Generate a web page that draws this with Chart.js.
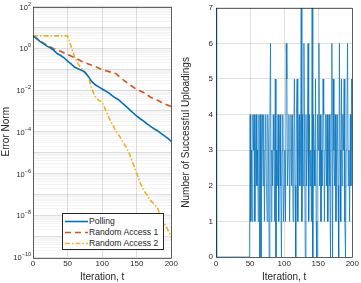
<!DOCTYPE html>
<html><head><meta charset="utf-8">
<script src="https://cdn.jsdelivr.net/npm/chart.js@4/dist/chart.umd.min.js"></script>
<style>
html,body{margin:0;padding:0;background:#fff;}
#wrap{position:relative;width:361px;height:283px;overflow:hidden;font-family:"Liberation Sans",Arial,sans-serif;}
#c1{position:absolute;left:0;top:0;}
#c2{position:absolute;left:180px;top:0;}
#legend{position:absolute;left:62px;top:213px;width:102px;height:37px;border:1px solid #262626;background:#fff;font-size:8.6px;color:#262626;box-sizing:border-box;}
#legend .it{position:absolute;left:1px;height:11px;line-height:11px;white-space:nowrap;}
#legend svg{position:absolute;left:1px;top:0;}
#legend span{position:absolute;left:25px;top:0;}
</style></head>
<body><div id="wrap">
<canvas id="c1" width="180" height="283"></canvas>
<canvas id="c2" width="181" height="283"></canvas>
<div id="legend">
 <div class="it" style="top:2px"><svg width="23" height="11"><line x1="0" y1="5.5" x2="23" y2="5.5" stroke="#0072BD" stroke-width="1.6"/></svg><span>Polling</span></div>
 <div class="it" style="top:13px"><svg width="23" height="11"><line x1="0" y1="5.5" x2="23" y2="5.5" stroke="#D95319" stroke-width="1.6" stroke-dasharray="6,4"/></svg><span>Random Access 1</span></div>
 <div class="it" style="top:24px"><svg width="23" height="11"><line x1="0" y1="5.5" x2="23" y2="5.5" stroke="#EDB120" stroke-width="1.6" stroke-dasharray="5,2,1.5,2"/></svg><span>Random Access 2</span></div>
</div>
</div>
<script>
// ---- Left chart data (error norm vs iteration) ----
const pollingT = [0,5,10,15,20,25,30,35,40,45,50,55,60,65,70,75,80,85,90,95,100,105,110,115,120,125,130,135,140,145,150,155,160,165,170,175,180,185,190,195,200];
const pollingV = [3.8,2.95,2.14,1.66,1.26,1.05,0.79,0.56,0.45,0.35,0.24,0.178,0.126,0.105,0.089,0.071,0.045,0.025,0.0178,0.0141,0.0112,0.0089,0.0071,0.0052,0.004,0.0032,0.0022,0.0016,0.00112,7.9e-4,5.6e-4,4.2e-4,3.2e-4,2.4e-4,1.8e-4,1.4e-4,1.12e-4,8.3e-5,6.3e-5,4.8e-5,3.5e-5];
const ra1T = [0,10,20,30,40,50,60,70,80,90,100,110,120,130,140,150,160,170,180,190,200];
const ra1V = [3.8,2.24,1.41,0.95,0.71,0.5,0.355,0.24,0.178,0.132,0.095,0.076,0.06,0.0316,0.0178,0.0105,0.0076,0.0045,0.0032,0.0022,0.0016];
const ra2T = [0,50,55,60,65,70,75,80,85,90,95,100,105,110,115,120,125,130,135,140,145,150,155,160,165,170,175,180,185,190,195,200];
const ra2V = [3.9,3.9,1.26,0.4,0.178,0.112,0.071,0.043,0.0112,0.005,0.0032,0.0025,0.00112,4.5e-4,2.2e-4,1.05e-4,6.3e-5,3.2e-5,1.8e-5,7.9e-6,2.8e-6,1e-6,3.5e-7,1.6e-7,8.9e-8,5e-8,3.5e-8,2.2e-8,8.9e-9,4e-9,2e-9,8.9e-10];
const xTicks = [0,50,100,150,200];
const yExponents = [2,1,0,-1,-2,-3,-4,-5,-6,-7,-8,-9,-10];
const yLabelExponents = [2,0,-2,-4,-6,-8,-10];

// ---- Right chart data (number of successful uploadings per iteration) ----
const uploads = [7,
0,0,0,0,0,0,0,0,0,0,
0,0,0,0,0,0,0,0,0,0,
0,0,0,0,0,0,0,0,0,0,
0,0,0,0,0,0,0,0,0,0,
0,0,0,0,0,0,0,0,0,
4,1,3,1,4,3,4,1,3,4,
2,3,1,4,0,4,0,3,4,2,
4,1,3,4,2,1,4,3,0,4,
6,1,3,2,4,3,1,5,0,3,
2,4,1,3,4,2,0,3,4,1,
2,3,1,6,5,2,3,4,1,3,
4,2,4,1,3,5,2,0,4,5,
1,3,4,2,3,7,1,4,2,6,
3,0,4,2,3,6,1,4,2,3,
1,7,0,4,3,2,5,1,0,4,
3,6,2,4,1,3,2,5,4,1,
3,4,2,4,1,3,4,2,0,4,
6,0,5,3,2,4,1,3,4,2,
0,6,3,1,5,2,4,3,5,1,
0,3,4,6,2,3,1,4,2,5,
3];
const iterations = uploads.map((_, i) => i);

const FONT = "'Liberation Sans', Arial, sans-serif";
const TXT = '#262626';
Chart.defaults.font.family = FONT;
Chart.defaults.color = TXT;
Chart.defaults.animation = false;

const boxPlugin = {
  id: 'box',
  afterDraw(chart) {
    const a = chart.chartArea, ctx = chart.ctx;
    ctx.save();
    ctx.strokeStyle = '#262626';
    ctx.lineWidth = 0.7;
    ctx.strokeRect(Math.round(a.left) + 0.5, Math.round(a.top) + 0.5, Math.round(a.right - a.left), Math.round(a.bottom - a.top));
    ctx.restore();
  }
};

// draws "10" with a raised exponent for the log axis labels
const powLabelPlugin = {
  id: 'powLabels',
  afterDraw(chart) {
    const s = chart.scales.y, ctx = chart.ctx;
    ctx.save();
    ctx.fillStyle = TXT;
    ctx.textBaseline = 'middle';
    yLabelExponents.forEach(e => {
      const y = s.getPixelForValue(Math.pow(10, e));
      const ex = String(e).replace('-', '\u2212');
      ctx.font = "5.5px " + FONT;
      const ew = ctx.measureText(ex).width;
      ctx.font = "7.5px " + FONT;
      const bw = ctx.measureText('10').width;
      const right = s.right - 2;
      ctx.textAlign = 'left';
      ctx.fillText('10', right - ew - bw, y + 1);
      ctx.font = "5.5px " + FONT;
      ctx.fillText(ex, right - ew, y - 2.5);
    });
    ctx.restore();
  }
};

const pts = (t, v) => t.map((x, i) => ({x, y: v[i]}));

new Chart(document.getElementById('c1'), {
  type: 'line',
  data: {
    datasets: [
      {label: 'Polling', data: pts(pollingT, pollingV), borderColor: '#0072BD', borderWidth: 1.6, pointRadius: 0, tension: 0},
      {label: 'Random Access 1', data: pts(ra1T, ra1V), borderColor: '#D95319', borderWidth: 1.6, borderDash: [6,4], pointRadius: 0, tension: 0},
      {label: 'Random Access 2', data: pts(ra2T, ra2V), borderColor: '#EDB120', borderWidth: 1.6, borderDash: [5,2,1.5,2], pointRadius: 0, tension: 0}
    ]
  },
  options: {
    responsive: false,
    layout: {padding: {left: 0, right: 8, top: 1, bottom: 0}},
    plugins: {legend: {display: false}, tooltip: {enabled: false}},
    scales: {
      x: {
        type: 'linear', min: 0, max: 200,
        afterBuildTicks: s => { s.ticks = xTicks.map(v => ({value: v})); },
        ticks: {font: {size: 8}, padding: 2, maxRotation: 0},
        grid: {color: 'rgba(0,0,0,0.12)', drawTicks: false},
        border: {display: false},
        title: {display: true, text: 'Iteration, t', font: {size: 10}, padding: {top: 1, bottom: 0}},
        afterFit: s => { s.height = 26; }
      },
      y: {
        type: 'logarithmic', min: 1e-10, max: 1e2,
        afterBuildTicks: s => {
          const t = [];
          yExponents.forEach(e => { for (let m = 1; m <= 9; m++) { const v = m * Math.pow(10, e); if (v <= 1e2 * 1.0001 && v >= 1e-10 * 0.9999) t.push({value: v}); } });
          s.ticks = t;
        },
        ticks: {font: {size: 7.5}, padding: 2, autoSkip: false, callback: () => ''},
        grid: {
          drawTicks: false,
          color: c => { const v = c.tick && c.tick.value; if (!v) return 'rgba(0,0,0,0)'; const l = Math.log10(v); return Math.abs(l - Math.round(l)) < 1e-6 ? 'rgba(0,0,0,0.13)' : 'rgba(0,0,0,0.045)'; }
        },
        border: {display: false},
        title: {display: true, text: 'Error Norm', font: {size: 10}, padding: {top: 0, bottom: 2}},
        afterFit: s => { s.width = 33; }
      }
    }
  },
  plugins: [boxPlugin, powLabelPlugin]
});

new Chart(document.getElementById('c2'), {
  type: 'line',
  data: {
    labels: iterations,
    datasets: [{label: 'Uploads', data: uploads, borderColor: 'rgba(0,114,189,0.8)', borderWidth: 0.9, pointRadius: 0, tension: 0}]
  },
  options: {
    responsive: false,
    layout: {padding: {left: 0, right: 7, top: 1, bottom: 0}},
    plugins: {legend: {display: false}, tooltip: {enabled: false}},
    scales: {
      x: {
        type: 'linear', min: 0, max: 200,
        afterBuildTicks: s => { s.ticks = xTicks.map(v => ({value: v})); },
        ticks: {font: {size: 8}, padding: 2, maxRotation: 0},
        grid: {color: 'rgba(0,0,0,0.12)', drawTicks: false},
        border: {display: false},
        title: {display: true, text: 'Iteration, t', font: {size: 10}, padding: {top: 1, bottom: 0}},
        afterFit: s => { s.height = 26; }
      },
      y: {
        min: 0, max: 7,
        ticks: {stepSize: 1, font: {size: 8}, padding: 3},
        grid: {color: 'rgba(0,0,0,0.12)', drawTicks: false},
        border: {display: false},
        title: {display: true, text: 'Number of Successful Uploadings', font: {size: 10}, padding: {top: 0, bottom: 2}},
        afterFit: s => { s.width = 36; }
      }
    }
  },
  plugins: [boxPlugin]
});
</script>
</body></html>
